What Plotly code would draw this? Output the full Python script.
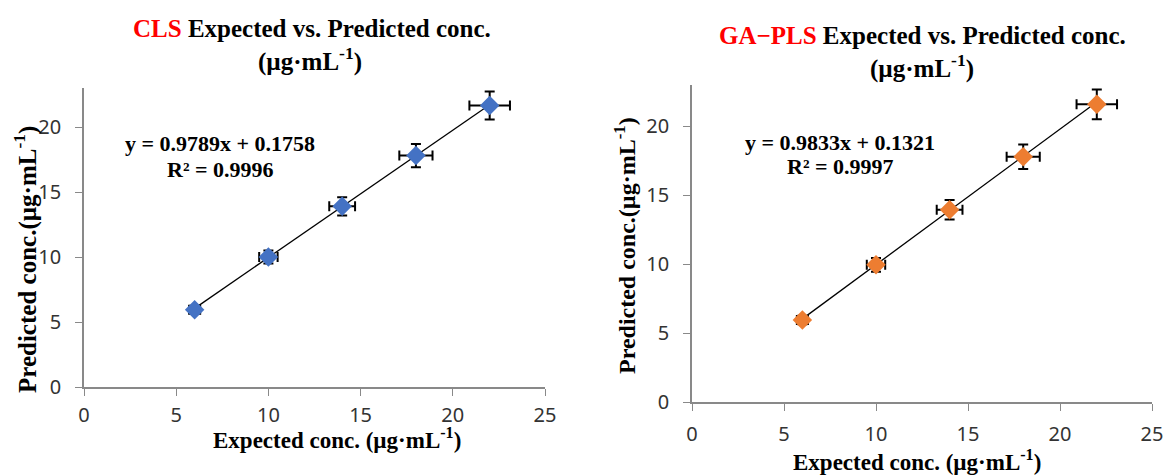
import plotly.graph_objects as go

# ---- data ----
expected = [6, 10, 14, 18, 22]
cls_pred = [5.95, 10.0, 13.9, 17.8, 21.65]
ga_pred = [5.95, 9.95, 13.95, 17.8, 21.6]
x_err = [0.3, 0.5, 0.7, 0.9, 1.1]
cls_y_err = [0.3, 0.5, 0.7, 0.89, 1.08]
ga_y_err = [0.3, 0.5, 0.7, 0.89, 1.08]
cls_slope, cls_intercept, cls_r2 = 0.9789, 0.1758, 0.9996
ga_slope, ga_intercept, ga_r2 = 0.9833, 0.1321, 0.9997
tick_vals_x = [0, 5, 10, 15, 20, 25]
tick_vals_y = [0, 5, 10, 15, 20]

W, H = 1164, 475
SERIF = "Liberation Serif"
TICKFONT = dict(family="Noto Sans", size=20, color="#333333")
AXCOL = "#898989"


def px(xp):
    return xp / W


def py(yp):
    return 1 - yp / H


fig = go.Figure()

panels = [
    dict(pred=cls_pred, yerr=cls_y_err, slope=cls_slope, icpt=cls_intercept, r2=cls_r2,
         color="#4472C4", xa="x", ya="y"),
    dict(pred=ga_pred, yerr=ga_y_err, slope=ga_slope, icpt=ga_intercept, r2=ga_r2,
         color="#ED7D31", xa="x2", ya="y2"),
]

for p in panels:
    xs = [min(expected), max(expected)]
    fig.add_trace(go.Scatter(
        x=xs, y=[p["slope"] * v + p["icpt"] for v in xs], mode="lines",
        line=dict(color="black", width=1.3), xaxis=p["xa"], yaxis=p["ya"],
        showlegend=False, hoverinfo="skip"))
    fig.add_trace(go.Scatter(
        x=expected, y=p["pred"], mode="markers",
        marker=dict(symbol="diamond", size=15, color=p["color"]),
        error_x=dict(type="data", array=x_err, color="black", thickness=2, width=5),
        error_y=dict(type="data", array=p["yerr"], color="black", thickness=2, width=5),
        xaxis=p["xa"], yaxis=p["ya"], showlegend=False))

axis_common = dict(showline=True, linecolor=AXCOL, linewidth=1.6, showgrid=False,
                   zeroline=False, ticks="outside", tickcolor=AXCOL, tickwidth=1.3,
                   ticklen=7, tickfont=TICKFONT, fixedrange=True, automargin=False)

fig.update_layout(
    width=W, height=H, autosize=False,
    margin=dict(l=0, r=0, t=0, b=0, pad=0, autoexpand=False),
    paper_bgcolor="white", plot_bgcolor="white",
    xaxis=dict(domain=[px(84), px(545)], range=[0, 25], tickvals=tick_vals_x,
               anchor="y", ticklabelstandoff=2, **axis_common),
    yaxis=dict(domain=[py(387), py(88)], range=[0, 23], tickvals=tick_vals_y,
               anchor="x", ticklabelstandoff=10, **axis_common),
    xaxis2=dict(domain=[px(692), px(1152)], range=[0, 25], tickvals=tick_vals_x,
                anchor="y2", ticklabelstandoff=6, **axis_common),
    yaxis2=dict(domain=[py(402), py(85)], range=[0, 23], tickvals=tick_vals_y,
                anchor="x2", ticklabelstandoff=10, **axis_common),
)

ann = []


def text(x, y, s, size, angle=0):
    ann.append(dict(x=px(x), y=py(y), xref="paper", yref="paper", text=s, showarrow=False,
                    xanchor="center", yanchor="middle", textangle=angle,
                    font=dict(family=SERIF, size=size, color="black", weight="bold")))


unit = "(µg·mL<sup>-1</sup>)"
# titles
text(312, 29, "<span style='color:#FF0000'>CLS</span> Expected vs. Predicted conc.", 25)
text(310, 60, unit, 25)
text(922, 35, "<span style='color:#FF0000'>GA−PLS</span> Expected vs. Predicted conc.", 25)
text(922, 67, unit, 25)
# equations
text(220, 144, f"y = {cls_slope}x + {cls_intercept}", 22)
text(220, 169, f"R² = {cls_r2}", 22)
text(840, 142, f"y = {ga_slope}x + {ga_intercept}", 22)
text(840, 166, f"R² = {ga_r2}", 22)
# axis titles
text(337, 438, "Expected conc. " + unit, 23)
text(917, 460, "Expected conc. " + unit, 23)
text(25, 260, "Predicted conc." + unit, 25, -90)
text(625, 246, "Predicted conc." + unit, 24, -90)

fig.update_layout(annotations=ann)
fig.write_html("out.html", config={"displayModeBar": False},
               post_script="document.body.style.margin='0';document.body.style.overflow='hidden';")
